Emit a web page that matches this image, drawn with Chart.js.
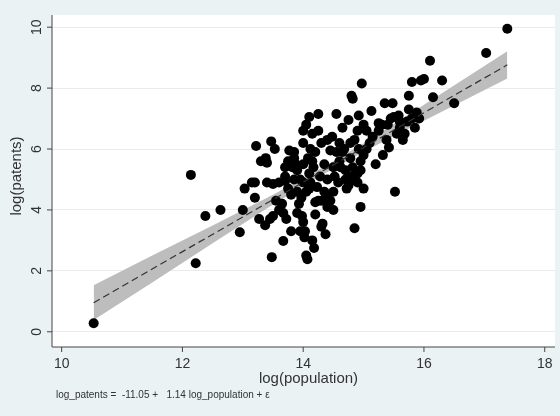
<!DOCTYPE html>
<html>
<head>
<meta charset="utf-8">
<script src="https://cdn.jsdelivr.net/npm/chart.js@4"></script>
<style>
  html, body { margin: 0; padding: 0; background: #eaf2f3; }
  #wrap { width: 560px; height: 416px; }
</style>
</head>
<body>
<div id="wrap"><canvas id="c" width="560" height="416"></canvas></div>
<script>
// 관측치 (log population, log patents) - 그림에서 읽은 값
const popX = [10.53,12.14,12.22,12.38,12.63,12.95,13.03,13.0,13.15,13.2,13.2,13.22,13.27,13.3,13.37,13.38,13.4,13.4,13.45,13.47,13.5,13.53,13.48,13.5,13.6,13.65,13.67,13.67,13.7,13.7,13.72,13.75,13.77,13.8,13.82,13.85,13.85,13.88,13.9,13.93,13.95,13.98,13.97,14.0,14.0,14.02,14.03,14.05,14.07,14.0,14.05,14.1,14.08,14.1,14.12,14.12,14.15,14.17,14.15,14.18,14.2,14.2,14.23,14.25,14.25,14.28,14.3,14.3,14.32,14.35,14.37,14.4,14.4,14.45,14.45,14.48,14.5,14.5,14.52,14.55,14.55,14.58,14.6,14.62,14.65,14.65,14.7,14.72,14.75,14.75,14.78,14.78,14.8,14.82,14.82,14.85,14.85,14.9,14.92,14.92,14.95,14.95,14.97,15.0,15.0,15.05,15.05,15.13,15.15,15.2,15.25,15.25,15.3,15.32,15.35,15.38,15.42,15.45,15.48,15.5,15.52,15.55,15.58,15.6,15.65,15.68,15.72,15.75,15.75,15.8,15.85,15.88,15.92,15.95,16.0,16.1,16.15,16.3,16.5,17.03,17.38,
  13.6,13.8,13.9,14.0,14.1,14.2,14.3,14.35,14.4,14.6,14.7,14.8,14.9,14.95,15.0,14.68,14.85,14.5,14.15,13.95,14.05,13.75,13.9,14.25,14.4,13.55,13.7,13.85,14.0,14.9,15.1,15.4,15.6,15.8];
const patY = [0.28,5.15,2.25,3.8,4.0,3.27,4.7,4.0,4.9,4.9,4.4,6.1,3.7,5.6,3.5,5.7,5.55,4.9,3.7,6.25,3.8,6.0,2.45,4.85,4.9,4.2,2.98,3.9,5.1,5.4,3.7,5.6,5.95,4.5,5.4,5.9,5.0,5.5,5.3,4.2,3.3,3.8,4.4,5.5,3.6,3.1,3.3,2.5,2.38,6.6,6.8,7.05,5.7,4.7,4.9,6.0,6.5,5.4,3.0,2.75,3.85,4.25,4.75,6.6,7.15,5.1,4.3,3.45,3.55,4.6,3.2,6.3,4.1,5.95,4.3,6.4,4.6,4.0,5.1,5.9,7.15,4.9,6.2,5.4,5.9,6.7,5.3,4.7,4.8,6.95,6.2,5.7,7.75,7.65,5.4,5.0,3.4,5.2,6.0,7.1,4.1,5.6,8.15,6.8,4.7,6.6,6.0,7.25,6.4,5.5,6.6,6.85,6.8,5.8,7.5,6.3,6.05,7.0,7.5,7.05,4.6,6.5,7.1,6.7,6.3,6.5,6.9,7.75,7.3,8.2,6.7,7.2,7.0,8.25,8.3,8.9,7.7,8.25,7.5,9.15,9.95,
  4.0,3.3,4.6,4.9,5.2,5.9,6.2,5.5,5.0,5.6,5.0,5.1,4.9,5.3,5.8,6.0,6.3,5.4,5.6,5.0,4.6,4.7,3.9,4.3,4.4,4.3,4.95,5.7,6.2,6.6,6.2,6.8,6.9,7.0];

// 회귀선 및 신뢰구간 폭
const intercept = -11.05, slope = 1.14;
const bandX = [10.53, 11.5, 12.5, 13.5, 14.3, 15.0, 16.0, 17.38];
const bandHalf = [0.57, 0.44, 0.29, 0.16, 0.12, 0.14, 0.26, 0.45];
const xTicks = [10, 12, 14, 16, 18];
const yTicks = [0, 2, 4, 6, 8, 10];

const fitY = x => intercept + slope * x;
const upper = bandX.map((x, i) => ({ x, y: fitY(x) + bandHalf[i] }));
const lower = bandX.map((x, i) => ({ x, y: fitY(x) - bandHalf[i] }));
const fitLine = [10.53, 17.38].map(x => ({ x, y: fitY(x) }));
const points = popX.map((x, i) => ({ x, y: patY[i] }));

const stataPlugin = {
  id: 'stata',
  beforeDraw(chart) {
    const { ctx, chartArea: a } = chart;
    ctx.save();
    ctx.fillStyle = '#ffffff';
    ctx.fillRect(a.left, a.top, a.right - a.left, a.bottom - a.top);
    ctx.restore();
  },
  afterDraw(chart) {
    const { ctx, chartArea: a, scales: { x, y } } = chart;
    ctx.save();
    ctx.strokeStyle = '#444';
    ctx.lineWidth = 1;
    // 축선
    ctx.beginPath();
    ctx.moveTo(a.left, a.top); ctx.lineTo(a.left, a.bottom);
    ctx.moveTo(a.left, a.bottom); ctx.lineTo(a.right, a.bottom);
    yTicks.forEach(v => { const p = y.getPixelForValue(v); ctx.moveTo(a.left - 5, p); ctx.lineTo(a.left, p); });
    xTicks.forEach(v => { const p = x.getPixelForValue(v); ctx.moveTo(p, a.bottom); ctx.lineTo(p, a.bottom + 5); });
    ctx.stroke();
    ctx.fillStyle = '#333';
    ctx.font = '14px "Liberation Sans", Arial';
    ctx.textAlign = 'center';
    ctx.textBaseline = 'middle';
    yTicks.forEach(v => {
      const p = y.getPixelForValue(v);
      ctx.save(); ctx.translate(a.left - 15, p); ctx.rotate(-Math.PI / 2);
      ctx.fillText(String(v), 0, 0); ctx.restore();
    });
    xTicks.forEach(v => ctx.fillText(String(v), x.getPixelForValue(v), a.bottom + 17));
    ctx.font = '15px "Liberation Sans", Arial';
    ctx.fillText('log(population)', (a.left + a.right) / 2 + 5, a.bottom + 32);
    ctx.save(); ctx.translate(17, (a.top + a.bottom) / 2 - 5); ctx.rotate(-Math.PI / 2);
    ctx.fillText('log(patents)', 0, 0); ctx.restore();
    ctx.font = '10px "Liberation Sans", Arial';
    ctx.textAlign = 'left';
    ctx.fillText('log_patents =  -11.05 +   1.14 log_population + ε', 56, 395);
    ctx.restore();
  }
};

new Chart(document.getElementById('c'), {
  type: 'scatter',
  data: {
    datasets: [
      { type: 'line', data: upper, borderWidth: 0, pointRadius: 0, fill: '+1', backgroundColor: '#bdbdbd', order: 3 },
      { type: 'line', data: lower, borderWidth: 0, pointRadius: 0, fill: false, order: 3 },
      { type: 'line', data: fitLine, borderColor: '#333', borderWidth: 1.2, borderDash: [7, 4], pointRadius: 0, fill: false, order: 1 },
      { data: points, backgroundColor: '#000', borderWidth: 0, pointRadius: 5, order: 2 }
    ]
  },
  options: {
    responsive: false,
    animation: false,
    layout: { padding: { top: 15, right: 5, left: 0, bottom: 0 } },
    plugins: { legend: { display: false }, tooltip: { enabled: false } },
    scales: {
      x: {
        type: 'linear', min: 9.84, max: 18.17,
        grid: { display: false }, border: { display: false },
        ticks: { display: false },
        afterFit(s) { s.height = 69; }
      },
      y: {
        type: 'linear', min: -0.5, max: 10.4,
        afterBuildTicks(s) { s.ticks = yTicks.map(v => ({ value: v })); },
        grid: { color: '#ebebeb', lineWidth: 1, drawTicks: false },
        border: { display: false },
        ticks: { display: false },
        afterFit(s) { s.width = 52; }
      }
    }
  },
  plugins: [stataPlugin]
});
</script>
</body>
</html>
